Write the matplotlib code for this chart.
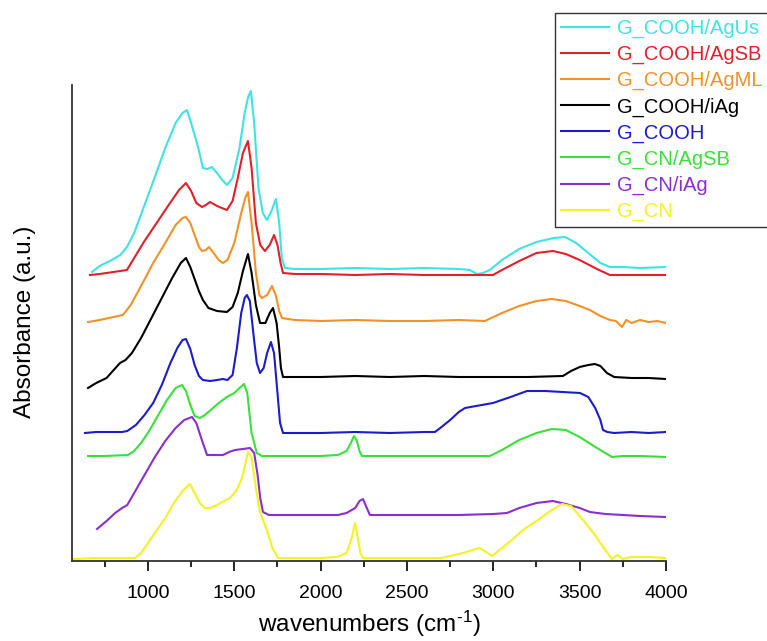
import matplotlib
matplotlib.use("Agg")
import matplotlib.pyplot as plt

plt.rcParams['font.family'] = ['Liberation Sans', 'DejaVu Sans']
plt.rcParams['mathtext.fontset'] = 'custom'
plt.rcParams['mathtext.rm'] = 'Liberation Sans'
plt.rcParams['mathtext.default'] = 'regular'

# FTIR spectra (offset already included, arbitrary units)
w_agus = [676, 720, 780, 840, 878, 920, 980, 1040, 1100, 1160, 1200, 1226, 1250, 1275, 1290, 1318, 1345, 1370, 1400, 1430,
          1457, 1490, 1530, 1560, 1580, 1596, 1615, 1640, 1665, 1689, 1715, 1741, 1760, 1775, 1793, 1850, 2000, 2200, 2400,
          2600, 2800, 2865, 2905, 2940, 2980, 3050, 3150, 3250, 3350, 3415, 3480, 3550, 3620, 3675, 3750, 3850, 4000]
a_agus = [291, 297, 302, 308, 316, 330, 358, 386, 415, 440, 450, 453, 440, 425, 416, 395, 394, 396, 390, 383,
          378, 385, 415, 450, 466, 472, 440, 375, 350, 343, 352, 364, 340, 305, 295, 294, 294, 295, 294,
          295, 294, 293, 289, 290, 293, 303, 314, 321, 325, 326, 320, 310, 300, 296, 296, 295, 296]

w_agsb = [664, 720, 800, 878, 920, 980, 1050, 1120, 1180, 1220, 1250, 1280, 1313, 1335, 1359, 1400, 1457, 1490, 1520, 1550,
          1579, 1600, 1625, 1650, 1677, 1705, 1730, 1750, 1768, 1782, 1850, 2000, 2200, 2400, 2600, 2800, 2998, 3050, 3150,
          3250, 3345, 3420, 3500, 3600, 3675, 3800, 4000]
a_agsb = [288, 289, 291, 293, 305, 322, 340, 358, 373, 380, 372, 360, 356, 358, 361, 357, 353, 362, 385, 410,
          422, 395, 340, 318, 312, 318, 328, 318, 300, 290, 289, 289, 288, 289, 288, 288, 288, 293, 302,
          310, 312, 309, 303, 294, 288, 288, 288]

w_agml = [653, 720, 800, 855, 900, 960, 1030, 1100, 1160, 1200, 1220, 1245, 1270, 1295, 1313, 1335, 1353, 1380, 1410, 1434,
          1460, 1500, 1540, 1565, 1579, 1600, 1625, 1645, 1660, 1690, 1718, 1740, 1760, 1776, 1850, 2000, 2200, 2400, 2600,
          2800, 2951, 3050, 3150, 3250, 3339, 3420, 3500, 3559, 3620, 3675, 3710, 3745, 3770, 3800, 3850, 3900, 3950, 4000]
a_agml = [241, 243, 246, 248, 258, 277, 300, 320, 338, 345, 346, 340, 328, 316, 312, 313, 316, 310, 303, 300,
          303, 320, 350, 366, 371, 340, 290, 268, 265, 268, 277, 268, 252, 245, 243, 242, 243, 242, 242,
          243, 242, 250, 257, 262, 264, 262, 257, 253, 247, 243, 242, 236, 243, 240, 243, 241, 242, 240]

w_iag = [653, 700, 760, 838, 870, 907, 960, 1020, 1080, 1140, 1190, 1220, 1245, 1272, 1295, 1318, 1350, 1400, 1457, 1490,
         1520, 1550, 1579, 1600, 1625, 1649, 1680, 1705, 1724, 1745, 1760, 1770, 1782, 1850, 2000, 2200, 2400, 2600, 2800,
         3000, 3200, 3403, 3450, 3500, 3550, 3588, 3620, 3658, 3700, 3800, 3900, 4000]
a_iag = [175, 180, 185, 200, 203, 210, 225, 245, 265, 285, 300, 305, 296, 283, 272, 263, 255, 252, 251, 256,
         270, 292, 309, 290, 258, 240, 240, 250, 255, 240, 215, 195, 186, 186, 186, 187, 186, 187, 186,
         186, 186, 187, 192, 196, 198, 199, 197, 190, 186, 185, 185, 184]

w_cooh = [635, 700, 780, 850, 880, 930, 980, 1030, 1080, 1130, 1170, 1200, 1220, 1245, 1270, 1295, 1318, 1360, 1400, 1434,
          1460, 1490, 1515, 1540, 1560, 1573, 1590, 1610, 1630, 1649, 1670, 1690, 1712, 1730, 1750, 1765, 1782, 1850, 2000,
          2200, 2400, 2600, 2662, 2700, 2750, 2800, 2836, 2900, 2998, 3100, 3195, 3300, 3400, 3502, 3550, 3590, 3620, 3635,
          3660, 3700, 3800, 3900, 4000]
a_cooh = [130, 131, 131, 131, 132, 138, 148, 160, 178, 200, 215, 223, 224, 214, 198, 187, 183, 182, 183, 184,
          183, 188, 215, 250, 265, 268, 262, 230, 200, 190, 195, 210, 221, 210, 170, 140, 130, 130, 130,
          131, 130, 131, 131, 136, 143, 151, 155, 157, 160, 166, 172, 172, 171, 170, 166, 155, 143, 133,
          131, 130, 131, 130, 131]

w_cn_agsb = [653, 750, 884, 920, 960, 1010, 1060, 1110, 1160, 1197, 1220, 1245, 1270, 1301, 1330, 1370, 1410, 1457, 1500,
             1530, 1556, 1575, 1600, 1630, 1660, 1700, 1800, 1900, 2000, 2100, 2150, 2175, 2193, 2210, 2225, 2239, 2300,
             2500, 2700, 2900, 2980, 3050, 3150, 3250, 3339, 3420, 3500, 3600, 3687, 3750, 3850, 4000]
a_cn_agsb = [107, 107, 108, 112, 120, 133, 148, 163, 175, 178, 172, 158, 147, 145, 148, 154, 160, 166, 170,
             175, 179, 170, 130, 110, 107, 107, 107, 107, 107, 108, 112, 120, 127, 122, 112, 107, 107,
             107, 107, 107, 107, 113, 123, 130, 134, 133, 126, 115, 106, 107, 107, 106]

w_cn_iag = [705, 760, 810, 850, 880, 920, 980, 1040, 1100, 1160, 1210, 1255, 1280, 1310, 1342, 1390, 1434, 1470, 1504,
            1550, 1591, 1615, 1635, 1650, 1666, 1700, 1800, 1900, 2000, 2100, 2150, 2200, 2225, 2245, 2265, 2285, 2400,
            2600, 2800, 3000, 3079, 3150, 3250, 3345, 3420, 3500, 3559, 3650, 3750, 3850, 4000]
a_cn_iag = [34, 42, 50, 55, 58, 70, 88, 106, 122, 135, 143, 146, 140, 124, 108, 108, 108, 111, 113,
            114, 115, 110, 88, 65, 51, 48, 48, 48, 48, 48, 50, 55, 62, 64, 56, 48, 48,
            48, 48, 49, 50, 55, 60, 62, 59, 55, 51, 49, 48, 47, 46]

w_cn = [560, 700, 800, 925, 960, 1000, 1052, 1100, 1150, 1200, 1243, 1270, 1300, 1330, 1359, 1400, 1440, 1475, 1510,
        1545, 1565, 1579, 1600, 1625, 1650, 1689, 1720, 1753, 1800, 1900, 2000, 2094, 2150, 2180, 2199, 2215, 2230, 2245,
        2300, 2500, 2700, 2824, 2880, 2922, 2950, 2992, 3050, 3100, 3172, 3250, 3330, 3397, 3450, 3519, 3580, 3640, 3687,
        3720, 3750, 3800, 3900, 4000]
a_cn = [4, 5, 5, 5, 10, 20, 33, 45, 60, 72, 79, 70, 60, 55, 55, 58, 62, 65, 72,
        85, 100, 111, 105, 75, 50, 33, 15, 5, 5, 5, 5, 6, 10, 25, 40, 25, 10, 5,
        5, 5, 5, 10, 13, 15, 12, 7, 15, 22, 33, 42, 52, 59, 57, 43, 30, 15, 4,
        8, 4, 6, 6, 5]

series = [
    ("G_COOH/AgUs", w_agus, a_agus, "#3ee3e3"),
    ("G_COOH/AgSB", w_agsb, a_agsb, "#e0202a"),
    ("G_COOH/AgML", w_agml, a_agml, "#f0922a"),
    ("G_COOH/iAg", w_iag, a_iag, "#000000"),
    ("G_COOH", w_cooh, a_cooh, "#1c1ccc"),
    ("G_CN/AgSB", w_cn_agsb, a_cn_agsb, "#3ae03a"),
    ("G_CN/iAg", w_cn_iag, a_cn_iag, "#8a2ed0"),
    ("G_CN", w_cn, a_cn, "#f2f224"),
]

fig = plt.figure(figsize=(7.67, 6.41), dpi=100)
ax = fig.add_axes([72 / 767, 1 - 561 / 641, (666 - 72) / 767, (561 - 85) / 641])

for label, w, a, c in series:
    ax.plot(w, a, color=c, linewidth=1.5, label=label)

ax.set_xlim(560, 4000)
ax.set_ylim(2, 478)
ax.set_xticks([1000, 1500, 2000, 2500, 3000, 3500, 4000])
ax.set_xticks([750, 1250, 1750, 2250, 2750, 3250, 3750], minor=True)
ax.set_yticks([])
ax.tick_params(axis='x', which='major', direction='out', length=7, width=1.2, labelsize=14, pad=10)
ax.tick_params(axis='x', which='minor', direction='out', length=4.5, width=1.2)
for s in ['top', 'right']:
    ax.spines[s].set_visible(False)
for s in ['left', 'bottom']:
    ax.spines[s].set_linewidth(1.3)
    ax.spines[s].set_color('#333333')

ax.set_xlabel(r"wavenumbers (cm$^{\text{-}1}$)", fontsize=17.5, va='baseline')
ax.xaxis.set_label_coords(0.5, -(632 - 561) / 476)
ax.set_ylabel("Absorbance (a.u.)", fontsize=17.5, va='center')
ax.yaxis.set_label_coords((25 - 72) / 594, (561 - 322) / 476)

leg = ax.legend(loc='upper left', bbox_to_anchor=(555 / 767, 1 - 13 / 641), bbox_transform=fig.transFigure,
                fontsize=14.5, handlelength=2.4, handletextpad=0.4, borderpad=0.3, labelspacing=0.34,
                borderaxespad=0, fancybox=False, framealpha=1, edgecolor='#333333', labelcolor='linecolor')
leg.get_frame().set_linewidth(1.0)

plt.savefig("out.png", dpi=100)
